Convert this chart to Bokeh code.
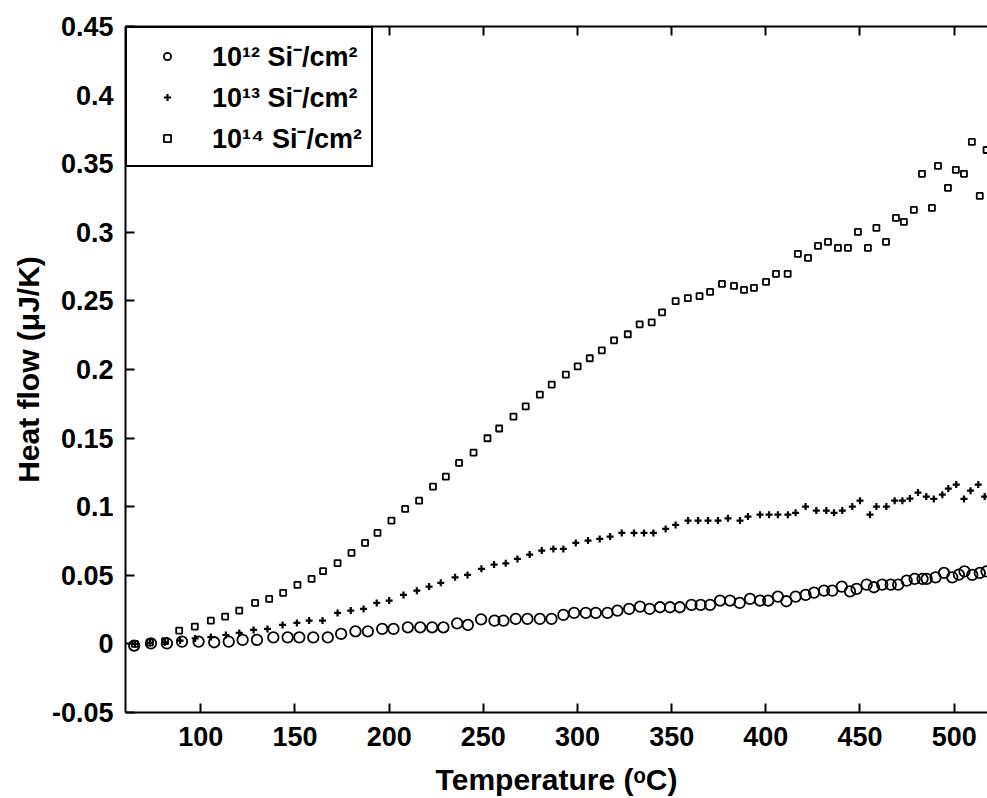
from bokeh.plotting import figure
from bokeh.models import FixedTicker, LinearAxis, Legend, LegendItem, Range1d
from bokeh.embed import file_html
from bokeh.resources import INLINE

# ---- data ----
temp_1e12 = [64.6, 73.5, 82, 90, 98.8, 107.1, 114.8, 122.2, 129.8, 138.5,
             146.1, 152.3, 159.7, 167.4, 174.5, 182.1, 188.7, 196.3, 202.3, 209.9,
             216.5, 222.8, 228.8, 236.1, 241.8, 248.8, 255.9,
             260.7, 267.2, 273.4, 280, 286.2, 292.5, 298.2, 304.4, 309.7, 315.9,
             321.2, 327.4, 333.2, 338.3, 343.8, 349.1, 354.3, 360.5, 365.4, 370.4,
             375.7, 381, 386.1, 391.6, 396.9, 401.3, 406.4, 410.9, 415.8, 421.1,
             425.6, 430.9, 435.3, 440.3, 444.7, 448.2, 453.5, 457.4, 461.8, 466.3,
             470.3, 474.8, 479, 483.2, 485.4, 490.1, 494.6, 499, 502.5, 505.5,
             509.6, 513.6, 517.2]
flow_1e12 = [-0.0012, 0.0004, 0.0004, 0.0017, 0.0017, 0.0012, 0.0017, 0.0029, 0.0029, 0.0048,
             0.0048, 0.0048, 0.0048, 0.0048, 0.0073, 0.0092, 0.0092, 0.0109, 0.0109, 0.0121,
             0.0121, 0.0121, 0.0121, 0.015, 0.0138, 0.0179, 0.017,
             0.017, 0.0182, 0.0182, 0.0182, 0.0182, 0.0211, 0.0226, 0.0226, 0.0226, 0.0226,
             0.0243, 0.0255, 0.0272, 0.0255, 0.0267, 0.0267, 0.0267, 0.0284, 0.0284, 0.0284,
             0.0316, 0.0316, 0.0299, 0.0328, 0.0316, 0.0316, 0.0345, 0.0311, 0.0345, 0.0357,
             0.0374, 0.0388, 0.0388, 0.0418, 0.0383, 0.0401, 0.0432, 0.0413, 0.0432, 0.0432,
             0.0432, 0.0461, 0.0474, 0.0474, 0.0474, 0.0485, 0.0517, 0.0485, 0.0505, 0.0529,
             0.0503, 0.0517, 0.0529]

temp_1e13 = [65, 73, 81, 89, 97, 105.3, 113.3, 120.4, 128, 135.4,
             143.4, 151, 157.5, 164.6, 172.6, 179.6, 186.4, 193.4, 200, 207.6,
             214.7, 221.2, 227.4, 235, 241.6, 249, 255.7, 261.9, 268.1, 274.6,
             281, 287.2, 292.5, 299.1, 305.6, 311.8, 317.3, 323.5, 330, 335.3,
             340.3, 346.8, 352.1, 358.7, 364, 369.3, 374.6, 379.9, 386.3, 390.5,
             396.9, 401.7, 406.4, 411.7, 415.8, 421.1, 426.8, 432.1, 436.2, 440.6,
             445.9, 450, 455.3, 458.7, 464, 468.4, 472.5, 476.5, 480.8, 485.2,
             489.2, 493.7, 496.9, 501.1, 505.2, 508.7, 512.8, 516.2]
flow_1e13 = [0.0, 0.0008, 0.0012, 0.0024, 0.004, 0.005, 0.0065, 0.008, 0.0102, 0.0109,
             0.0138, 0.0153, 0.017, 0.017, 0.0226, 0.0243, 0.0255, 0.0299, 0.0316, 0.0357,
             0.0388, 0.0418, 0.0445, 0.0485, 0.0503, 0.0547, 0.0578, 0.0587, 0.0619, 0.0651,
             0.068, 0.0692, 0.0692, 0.0736, 0.0753, 0.0765, 0.0782, 0.0809, 0.0809, 0.0809,
             0.0809, 0.0838, 0.0867, 0.0899, 0.0899, 0.0899, 0.0899, 0.0915, 0.0899, 0.0928,
             0.0942, 0.0942, 0.0942, 0.0942, 0.0955, 0.1001, 0.0972, 0.0972, 0.0955, 0.0972,
             0.1001, 0.1044, 0.0942, 0.1001, 0.1001, 0.1044, 0.1044, 0.1059, 0.1103, 0.1074,
             0.1057, 0.1088, 0.1132, 0.1161, 0.1057, 0.1117, 0.1161, 0.1074]

temp_1e14 = [65, 73, 81, 88.5, 96.8, 105.3, 112.9, 120.4, 128.8, 136.3,
             143.7, 151.3, 158.8, 164.9, 172.6, 180, 187.2, 193.8, 201.2, 208.5,
             215.9, 223.3, 230.1, 237.1, 244.8, 252.2, 258.4, 266, 272.5, 280,
             286.3, 293.8, 300.1, 306.5, 312.9, 319.4, 326.7, 333, 339.4, 344.9,
             352.1, 358.6, 364.8, 370.4, 376.7, 383.1, 388.4, 393.7, 400.1, 405.4,
             411.6, 417, 422.4, 427.7, 433, 438.3, 443.6, 448.9, 454.2, 458.7,
             463.8, 469.1, 473.3, 478.6, 482.9, 488.2, 491.4, 496.7, 500.9, 505.2,
             509.4, 513.6, 517.2]
flow_1e14 = [0.0, 0.001, 0.002, 0.0097, 0.0126, 0.017, 0.0199, 0.0243, 0.0299, 0.0328,
             0.0372, 0.043, 0.0474, 0.053, 0.0589, 0.0663, 0.0736, 0.0809, 0.0899, 0.0984,
             0.1044, 0.1147, 0.1219, 0.1319, 0.1394, 0.1499, 0.157, 0.1657, 0.1731, 0.1817,
             0.189, 0.1963, 0.2023, 0.2082, 0.214, 0.2213, 0.2257, 0.2329, 0.2344, 0.2417,
             0.2498, 0.252, 0.2535, 0.2566, 0.2624, 0.2609, 0.258, 0.2595, 0.2638, 0.2697,
             0.2697, 0.2843, 0.2813, 0.2901, 0.293, 0.2886, 0.2886, 0.3003, 0.2886, 0.3032,
             0.293, 0.3105, 0.3076, 0.3163, 0.3426, 0.3178, 0.3484, 0.3324, 0.3455, 0.3426,
             0.3659, 0.3265, 0.36]

x_ticks = [100, 150, 200, 250, 300, 350, 400, 450, 500]
y_ticks = [-0.05, 0, 0.05, 0.1, 0.15, 0.2, 0.25, 0.3, 0.35, 0.4, 0.45]
y_tick_labels = ["-0.05", "0", "0.05", "0.1", "0.15", "0.2", "0.25", "0.3", "0.35", "0.4", "0.45"]
legend_labels = ["10¹² Si⁻/cm²", "10¹³ Si⁻/cm²", "10¹⁴ Si⁻/cm²"]
x_title = "Temperature (ᵒC)"
y_title = "Heat flow (μJ/K)"

FONT = "Liberation Sans"

p = figure(width=987, height=798,
           x_range=Range1d(60, 517.7), y_range=Range1d(-0.05, 0.45),
           output_backend="svg", toolbar_location=None,
           min_border_left=125, min_border_right=0,
           min_border_top=26, min_border_bottom=86)
p.outline_line_color = None
p.xgrid.visible = False
p.ygrid.visible = False

r1 = p.scatter(temp_1e12, flow_1e12, marker="circle", size=10.5,
               fill_color=None, line_color="black", line_width=1.8)
r2 = p.scatter(temp_1e13, flow_1e13, marker="cross", size=7,
               line_color="black", line_width=2.2)
r3 = p.scatter(temp_1e14, flow_1e14, marker="square", size=6,
               fill_color=None, line_color="black", line_width=1.8)

def style_axis(ax, tick_size="27px", title_size="30px"):
    ax.axis_line_width = 2
    ax.axis_line_color = "black"
    ax.major_tick_line_width = 2
    ax.major_tick_line_color = "black"
    ax.major_tick_in = 9
    ax.major_tick_out = 0
    ax.minor_tick_line_color = None
    ax.major_label_text_font = FONT
    ax.major_label_text_font_style = "bold"
    ax.major_label_text_font_size = tick_size
    ax.major_label_text_color = "black"
    ax.axis_label_text_font = FONT
    ax.axis_label_text_font_style = "bold"
    ax.axis_label_text_font_size = title_size
    ax.axis_label_text_color = "black"

xa = p.xaxis[0]
style_axis(xa)
xa.ticker = FixedTicker(ticks=x_ticks)
xa.axis_label = x_title
xa.major_label_standoff = 14
xa.axis_label_standoff = 14

ya = p.yaxis[0]
style_axis(ya)
ya.ticker = FixedTicker(ticks=y_ticks)
ya.major_label_overrides = {t: s for t, s in zip(y_ticks, y_tick_labels)}
ya.axis_label = y_title
ya.major_label_standoff = 12
ya.axis_label_standoff = 4

top = LinearAxis(ticker=FixedTicker(ticks=x_ticks))
style_axis(top)
top.major_label_text_font_size = "1px"
top.major_label_text_alpha = 0
top.major_label_standoff = 0
p.add_layout(top, "above")

legend = Legend(
    items=[LegendItem(label=legend_labels[0], renderers=[r1]),
           LegendItem(label=legend_labels[1], renderers=[r2]),
           LegendItem(label=legend_labels[2], renderers=[r3])],
    location="top_left", margin=0, padding=9, spacing=4,
    glyph_width=62, glyph_height=18, label_standoff=14, label_height=35,
    label_text_font=FONT, label_text_font_style="bold", label_text_font_size="27px",
    label_text_color="black",
    border_line_color="black", border_line_width=2, border_line_alpha=1,
    background_fill_color="white", background_fill_alpha=1,
)
p.add_layout(legend)

open("out.html", "w").write(file_html(p, INLINE))
